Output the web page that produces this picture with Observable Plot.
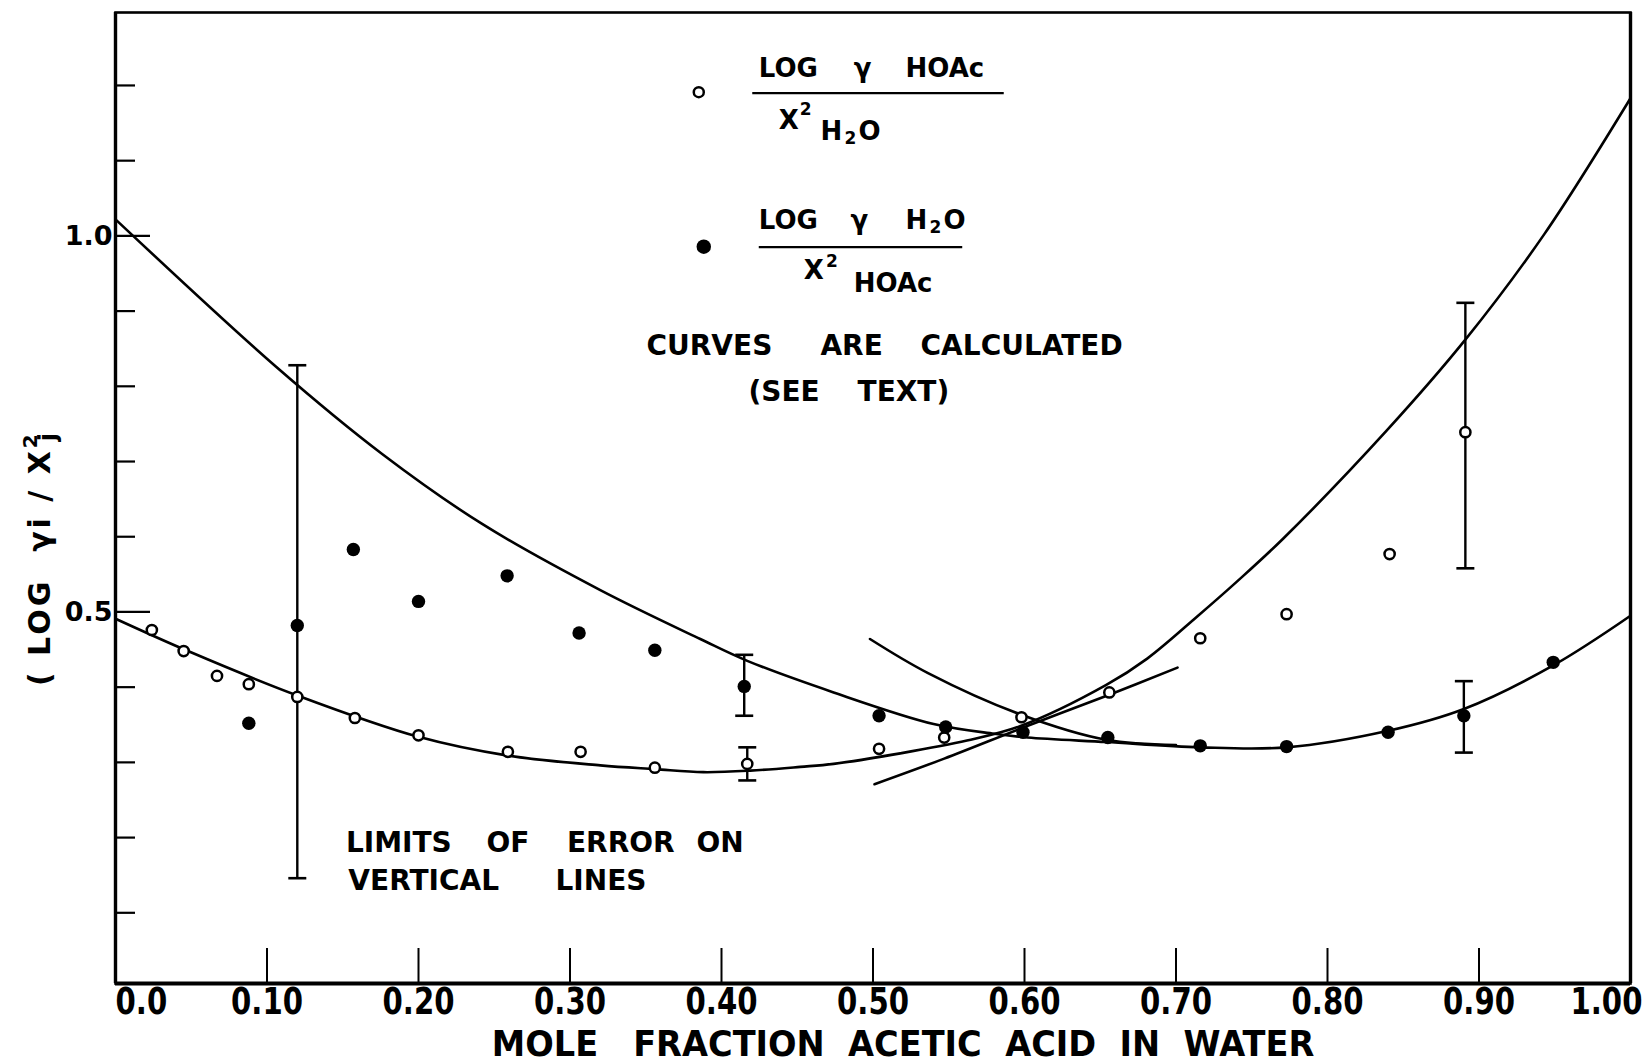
<!DOCTYPE html>
<html><head><meta charset="utf-8">
<script src="https://cdn.jsdelivr.net/npm/d3@7"></script>
<script src="https://cdn.jsdelivr.net/npm/@observablehq/plot@0.6"></script>
<style>
html,body{margin:0;padding:0;background:#fff;}
#chart{width:1650px;height:1064px;}
svg text{white-space:pre;}
</style></head><body><div id="chart"></div>
<script>
// ---- tick values and labels ----
const xTicks = [0, 0.1, 0.2, 0.3, 0.4, 0.5, 0.6, 0.7, 0.8, 0.9, 1.0];
const xTickLabels = ["0.0", "0.10", "0.20", "0.30", "0.40", "0.50", "0.60", "0.70", "0.80", "0.90", "1.00"];
const xInnerTicks = [0.1, 0.2, 0.3, 0.4, 0.5, 0.6, 0.7, 0.8, 0.9];
const yMajorTicks = [0.5, 1.0];
const yTickLabels = ["0.5", "1.0"];
const yMinorTicks = [0.1, 0.2, 0.3, 0.4, 0.6, 0.7, 0.8, 0.9, 1.1, 1.2];

// ---- measured points: log γ HOAc / x²H2O (open circles) ----
const hoacX = [0.024, 0.045, 0.067, 0.088, 0.120, 0.158, 0.200, 0.259, 0.307, 0.356, 0.417, 0.504, 0.547, 0.598, 0.656, 0.716, 0.773, 0.841, 0.891];
const hoacY = [0.476, 0.448, 0.415, 0.404, 0.387, 0.359, 0.336, 0.314, 0.314, 0.293, 0.298, 0.318, 0.333, 0.360, 0.393, 0.465, 0.497, 0.577, 0.739];

// ---- measured points: log γ H2O / x²HOAc (filled circles) ----
const h2oX = [0.088, 0.120, 0.157, 0.200, 0.2585, 0.306, 0.356, 0.415, 0.504, 0.548, 0.599, 0.655, 0.716, 0.773, 0.840, 0.890, 0.949];
const h2oY = [0.352, 0.482, 0.583, 0.514, 0.548, 0.472, 0.449, 0.401, 0.362, 0.347, 0.340, 0.333, 0.322, 0.321, 0.340, 0.362, 0.433];

// ---- limits of error (vertical lines) ----
const errX    = [0.120, 0.415, 0.417, 0.890, 0.891];
const errLow  = [0.146, 0.362, 0.276, 0.313, 0.558];
const errHigh = [0.828, 0.443, 0.320, 0.408, 0.911];

// ---- calculated curves (traced) ----
const curveH2oX = [0, 0.106, 0.176, 0.242, 0.320, 0.386, 0.417, 0.474, 0.540, 0.580, 0.602, 0.654, 0.716, 0.773, 0.840, 0.890, 0.949, 1.0];
const curveH2oY = [1.022, 0.826, 0.710, 0.617, 0.529, 0.464, 0.435, 0.393, 0.351, 0.338, 0.333, 0.327, 0.320, 0.320, 0.342, 0.371, 0.429, 0.495];
const curveHoacX = [0, 0.049, 0.120, 0.200, 0.259, 0.320, 0.356, 0.388, 0.419, 0.452, 0.474, 0.518, 0.562, 0.597, 0.654, 0.681, 0.714, 0.740, 0.771, 0.839, 0.891, 0.943, 1.0];
const curveHoacY = [0.491, 0.447, 0.389, 0.334, 0.309, 0.296, 0.291, 0.287, 0.289, 0.294, 0.298, 0.312, 0.329, 0.348, 0.403, 0.438, 0.494, 0.540, 0.598, 0.741, 0.862, 1.002, 1.183];
const altH2oX = [0.498, 0.536, 0.597, 0.654, 0.700];
const altH2oY = [0.464, 0.419, 0.364, 0.330, 0.323];
const altHoacX = [0.501, 0.547, 0.600, 0.656, 0.701];
const altHoacY = [0.271, 0.305, 0.347, 0.390, 0.426];

// ---- texts ----
const xTitle = "MOLE\u00a0\u00a0\u00a0FRACTION\u00a0\u00a0ACETIC\u00a0\u00a0ACID\u00a0\u00a0IN\u00a0\u00a0WATER";
const noteWords = [
  {t: "CURVES", x: 0.3505, y: 0.841}, {t: "ARE", x: 0.4653, y: 0.841}, {t: "CALCULATED", x: 0.5314, y: 0.841},
  {t: "(SEE", x: 0.4178, y: 0.781}, {t: "TEXT)", x: 0.4898, y: 0.781},
  {t: "LIMITS", x: 0.1521, y: 0.1806}, {t: "OF", x: 0.2449, y: 0.1806}, {t: "ERROR", x: 0.2980, y: 0.1806}, {t: "ON", x: 0.3835, y: 0.1806},
  {t: "VERTICAL", x: 0.1537, y: 0.1297}, {t: "LINES", x: 0.2904, y: 0.1297}
];
const legendMain = [
  {t: "LOG", x: 0.4246, y: 1.2110}, {t: "\u03b3", x: 0.4873, y: 1.2110}, {t: "HOAc", x: 0.5215, y: 1.2110},
  {t: "X", x: 0.4378, y: 1.1424}, {t: "H", x: 0.4653, y: 1.1270}, {t: "O", x: 0.4904, y: 1.1270},
  {t: "LOG", x: 0.4246, y: 1.0095}, {t: "\u03b3", x: 0.4851, y: 1.0095}, {t: "H", x: 0.5215, y: 1.0095}, {t: "O", x: 0.5465, y: 1.0095},
  {t: "X", x: 0.4543, y: 0.9430}, {t: "HOAc", x: 0.4873, y: 0.9252}
];
const legendSmall = [
  {t: "2", x: 0.4517, y: 1.1601}, {t: "2", x: 0.4812, y: 1.1220},
  {t: "2", x: 0.5373, y: 1.0036}, {t: "2", x: 0.4690, y: 0.9584}
];
const fracLines = [
  {x1: 0.4203, x2: 0.5863, y: 1.1898},
  {x1: 0.4246, x2: 0.5589, y: 0.9850}
];

const idx = a => d3.range(a.length);
const ML = 115, MR = 20, MT = 12, MB = 81, W = 1650, H = 1064;
const plotW = W - ML - MR, plotH = H - MT - MB;
const capHalf = 9 / plotW;
const INK = "#000";
const FONT = "'DejaVu Sans', sans-serif";
const TICK_FS = 38, TITLE_FS = 36;

const line = (xs, ys) => Plot.line(idx(xs), {x: i => xs[i], y: i => ys[i], curve: "catmull-rom", stroke: INK, strokeWidth: 2.6});
const xLab = d => xTickLabels[xTicks.indexOf(d)];

const plot = Plot.plot({
  width: W, height: H,
  marginLeft: ML, marginRight: MR, marginTop: MT, marginBottom: MB,
  x: {domain: [0, 1]},
  y: {domain: [0.006, 1.297]},
  style: {background: "#fff", color: INK, overflow: "visible", fontFamily: FONT},
  marks: [
    // axes labels
    Plot.axisX([0], {tickSize: 0, tickPadding: 4, textAnchor: "start", tickFormat: xLab, fontSize: TICK_FS, fontWeight: "bold", fontFamily: FONT, label: null}),
    Plot.axisX(xInnerTicks, {tickSize: 0, tickPadding: 4, tickFormat: xLab, fontSize: TICK_FS, fontWeight: "bold", fontFamily: FONT, label: null}),
    Plot.axisX([1.0], {tickSize: 0, tickPadding: 4, textAnchor: "end", dx: 12, tickFormat: xLab, fontSize: TICK_FS, fontWeight: "bold", fontFamily: FONT, label: null}),
    Plot.axisY(yMajorTicks, {anchor: "left", tickSize: 0, tickPadding: 3, tickFormat: d => yTickLabels[yMajorTicks.indexOf(d)], fontSize: 27, fontWeight: "bold", fontFamily: FONT, label: null}),
    // inside ticks
    Plot.tickY(yMinorTicks, {y: d => d, insetRight: plotW - 20, stroke: INK, strokeWidth: 2.2}),
    Plot.tickY(yMajorTicks, {y: d => d, insetRight: plotW - 35, stroke: INK, strokeWidth: 2.2}),
    Plot.tickX(xInnerTicks, {x: d => d, insetTop: plotH - 35, stroke: INK, strokeWidth: 2}),
    // frame
    Plot.frame({stroke: INK, strokeWidth: 2.6}),
    Plot.ruleY([0.006], {stroke: INK, strokeWidth: 4}),
    Plot.ruleX([0], {stroke: INK, strokeWidth: 3.4}),
    Plot.ruleX([1], {stroke: INK, strokeWidth: 3.4}),
    // calculated curves
    line(curveH2oX, curveH2oY),
    line(curveHoacX, curveHoacY),
    line(altH2oX, altH2oY),
    line(altHoacX, altHoacY),
    // error bars
    Plot.ruleX(idx(errX), {x: i => errX[i], y1: i => errLow[i], y2: i => errHigh[i], stroke: INK, strokeWidth: 2.4}),
    Plot.link(idx(errX), {x1: i => errX[i] - capHalf, x2: i => errX[i] + capHalf, y1: i => errLow[i], y2: i => errLow[i], stroke: INK, strokeWidth: 2.6}),
    Plot.link(idx(errX), {x1: i => errX[i] - capHalf, x2: i => errX[i] + capHalf, y1: i => errHigh[i], y2: i => errHigh[i], stroke: INK, strokeWidth: 2.6}),
    // points
    Plot.dot(idx(hoacX), {x: i => hoacX[i], y: i => hoacY[i], r: 5.1, fill: "#fff", stroke: INK, strokeWidth: 2.5}),
    Plot.dot(idx(h2oX), {x: i => h2oX[i], y: i => h2oY[i], r: 6.7, fill: INK, stroke: "none"}),
    // legend symbols
    Plot.dot([0], {x: 0.385, y: 1.1911, r: 5, fill: "#fff", stroke: INK, strokeWidth: 2.5}),
    Plot.dot([0], {x: 0.3883, y: 0.9856, r: 7.2, fill: INK, stroke: "none"}),
    Plot.link(fracLines, {x1: "x1", x2: "x2", y1: "y", y2: "y", stroke: INK, strokeWidth: 2.2}),
    Plot.text(legendMain, {x: "x", y: "y", text: "t", textAnchor: "start", lineAnchor: "bottom", fontSize: 26, fontWeight: "bold", fontFamily: FONT, fill: INK}),
    Plot.text(legendSmall, {x: "x", y: "y", text: "t", textAnchor: "start", lineAnchor: "bottom", fontSize: 17, fontWeight: "bold", fontFamily: FONT, fill: INK}),
    // annotations
    Plot.text(noteWords, {x: "x", y: "y", text: "t", textAnchor: "start", lineAnchor: "bottom", fontSize: 28, fontWeight: "bold", fontFamily: FONT, fill: INK}),
    // x title
    Plot.text([xTitle], {frameAnchor: "bottom", dx: 30, dy: 72.5, lineAnchor: "bottom", fontSize: TITLE_FS, fontWeight: "bold", fontFamily: FONT, fill: INK})
  ]
});
document.getElementById("chart").appendChild(plot);

const svg = d3.select(plot);
// narrow lettering for the axis numbers and title (horizontal squeeze of real text)
function condense(sel, s) {
  sel.each(function () {
    const el = d3.select(this);
    const t = el.attr("transform") || "";
    const x = +el.attr("x") || 0;
    el.attr("transform", `${t} translate(${x},0) scale(${s},1) translate(${-x},0)`);
  });
}
condense(svg.selectAll('g[aria-label="x-axis tick label"] text'), 29.2 / TICK_FS);
condense(svg.selectAll("text").filter(function () { return this.textContent === xTitle; }), 33.6 / TITLE_FS);

// y-axis title with superscript / subscript
const yt = svg.append("g").attr("transform", "translate(50,558) rotate(-90)")
  .append("text").attr("text-anchor", "middle").attr("font-family", "DejaVu Sans, sans-serif")
  .attr("font-weight", "bold").attr("font-size", 30).attr("fill", INK).style("letter-spacing", "3px");
yt.append("tspan").text("(\u00a0LOG\u00a0\u00a0\u03b3i\u00a0/\u00a0X");
yt.append("tspan").attr("font-size", 20).attr("dy", -13).text("2");
yt.append("tspan").attr("font-size", 24).attr("dy", 19).attr("dx", -10).text("j");
</script></body></html>
